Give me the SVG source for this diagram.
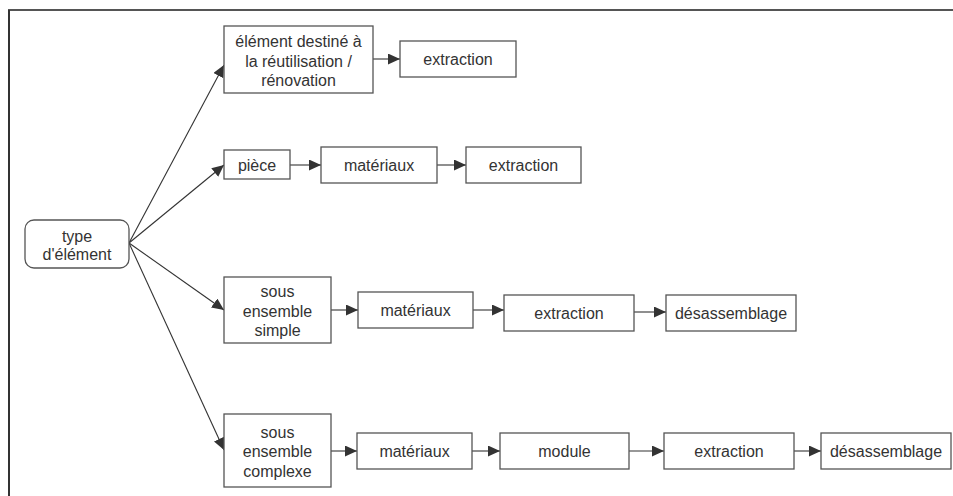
<svg xmlns="http://www.w3.org/2000/svg" width="953" height="496" viewBox="0 0 953 496">
<defs>
<marker id="ah" markerUnits="userSpaceOnUse" markerWidth="13" markerHeight="11" refX="12" refY="5.5" orient="auto">
<path d="M0,0 L12,5.5 L0,11 Z" fill="#333"/>
</marker>
<style>
.box{fill:#fff;stroke:#555;stroke-width:1.3}
.t{font-family:"Liberation Sans",Arial,sans-serif;font-size:16px;fill:#333;text-anchor:middle}
.c{fill:none;stroke:#333;stroke-width:1.1;marker-end:url(#ah)}
</style>
</defs>
<rect width="953" height="496" fill="#fff"/>
<g id="frame">
<line x1="8" y1="10" x2="953" y2="10" stroke="#555" stroke-width="2"/>
<line x1="9" y1="10" x2="9" y2="496" stroke="#333" stroke-width="2"/>
</g>
<g id="connectors">
<line class="c" x1="129" y1="243" x2="224" y2="65"/>
<line class="c" x1="129" y1="243" x2="224" y2="165"/>
<line class="c" x1="129" y1="243" x2="224" y2="310"/>
<line class="c" x1="129" y1="243" x2="224" y2="450"/>
<line class="c" x1="373" y1="59" x2="400" y2="59"/>
<line class="c" x1="290" y1="165" x2="321" y2="165"/>
<line class="c" x1="437" y1="165" x2="466" y2="165"/>
<line class="c" x1="331" y1="310" x2="358" y2="310"/>
<line class="c" x1="473" y1="310" x2="504" y2="310"/>
<line class="c" x1="634" y1="312" x2="666" y2="312"/>
<line class="c" x1="331" y1="451" x2="357" y2="451"/>
<line class="c" x1="472" y1="451" x2="500" y2="451"/>
<line class="c" x1="629" y1="451" x2="664" y2="451"/>
<line class="c" x1="794" y1="451" x2="821" y2="451"/>
</g>
<g id="type">
<rect class="box" x="25" y="220" width="104" height="48" rx="9"/>
<text class="t" x="77" y="242">type</text>
<text class="t" x="77" y="260">d'élément</text>
</g>
<g id="reuse">
<rect class="box" x="224" y="26" width="149" height="67"/>
<text class="t" x="298.5" y="47">élément destiné à</text>
<text class="t" x="298.5" y="67">la réutilisation /</text>
<text class="t" x="298.5" y="86">rénovation</text>
</g>
<g id="extraction1">
<rect class="box" x="400" y="41" width="116" height="36"/>
<text class="t" x="458" y="65">extraction</text>
</g>
<g id="piece">
<rect class="box" x="224" y="150" width="66" height="29"/>
<text class="t" x="257" y="171">pièce</text>
</g>
<g id="materiaux2">
<rect class="box" x="321" y="147" width="116" height="36"/>
<text class="t" x="379" y="171">matériaux</text>
</g>
<g id="extraction2">
<rect class="box" x="466" y="147" width="115" height="36"/>
<text class="t" x="523.5" y="171">extraction</text>
</g>
<g id="simple">
<rect class="box" x="224" y="277" width="107" height="66"/>
<text class="t" x="277.5" y="297">sous</text>
<text class="t" x="277.5" y="317">ensemble</text>
<text class="t" x="277.5" y="336">simple</text>
</g>
<g id="materiaux3">
<rect class="box" x="358" y="292" width="115" height="36"/>
<text class="t" x="415.5" y="316">matériaux</text>
</g>
<g id="extraction3">
<rect class="box" x="504" y="295" width="130" height="36"/>
<text class="t" x="569" y="319">extraction</text>
</g>
<g id="desassemblage3">
<rect class="box" x="666" y="295" width="130" height="36"/>
<text class="t" x="731" y="319">désassemblage</text>
</g>
<g id="complexe">
<rect class="box" x="224" y="414" width="107" height="73"/>
<text class="t" x="277.5" y="438">sous</text>
<text class="t" x="277.5" y="457">ensemble</text>
<text class="t" x="277.5" y="477">complexe</text>
</g>
<g id="materiaux4">
<rect class="box" x="357" y="433" width="115" height="36"/>
<text class="t" x="414.5" y="457">matériaux</text>
</g>
<g id="module">
<rect class="box" x="500" y="433" width="129" height="36"/>
<text class="t" x="564.5" y="457">module</text>
</g>
<g id="extraction4">
<rect class="box" x="664" y="433" width="130" height="36"/>
<text class="t" x="729" y="457">extraction</text>
</g>
<g id="desassemblage4">
<rect class="box" x="821" y="433" width="130" height="36"/>
<text class="t" x="886" y="457">désassemblage</text>
</g>
</svg>
